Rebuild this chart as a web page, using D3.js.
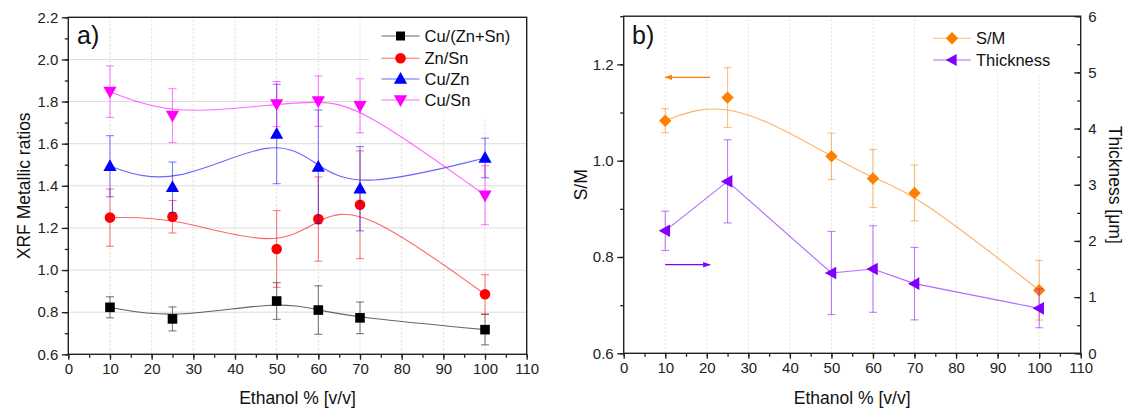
<!DOCTYPE html>
<html>
<head>
<meta charset="utf-8">
<script src="https://cdn.jsdelivr.net/npm/d3@7"></script>
<style>
  body { margin: 0; background: #fff; }
  svg { font-family: "Liberation Sans", Arial, sans-serif; }
</style>
</head>
<body>
<div id="chart"></div>
<script>
// ethanol content (x) shared by both panels
const ethanol = [10, 25, 50, 60, 70, 100];

// panel a) XRF metallic ratios
const cuZnSn = [0.823, 0.768, 0.853, 0.810, 0.773, 0.717];
const cuZnSnErr = [0.050, 0.057, 0.087, 0.115, 0.075, 0.072];
const znSn = [1.249, 1.253, 1.100, 1.242, 1.310, 0.885];
const znSnErr = [0.136, 0.077, 0.182, 0.200, 0.256, 0.093];
const cuZn = [1.493, 1.393, 1.646, 1.490, 1.386, 1.532];
const cuZnErr = [0.145, 0.120, 0.236, 0.270, 0.200, 0.094];
const cuSn = [1.847, 1.733, 1.788, 1.802, 1.780, 1.355];
const cuSnErr = [0.122, 0.128, 0.107, 0.120, 0.128, 0.140];

// panel b) S/M ratio and thickness
const sm = [1.083, 1.131, 1.009, 0.963, 0.933, 0.731];
const smErr = [0.025, 0.062, 0.048, 0.060, 0.058, 0.062];
const thickness = [2.18, 3.06, 1.43, 1.50, 1.24, 0.80];
const thicknessErr = [0.35, 0.74, 0.74, 0.77, 0.645, 0.345];

const xTicks = d3.range(0, 111, 10);
const yTicksA = [0.6, 0.8, 1.0, 1.2, 1.4, 1.6, 1.8, 2.0, 2.2];
const yTicksB = [0.6, 0.8, 1.0, 1.2];
const yTicksR = [0, 1, 2, 3, 4, 5, 6];

const width = 1131, height = 409;
const svg = d3.select("#chart").append("svg")
  .attr("width", width).attr("height", height);

// marker shapes (Origin style)
function marker(type, r) {
  switch (type) {
    case "square": return `M${-r},${-r}H${r}V${r}H${-r}Z`;
    case "circle": return d3.symbol(d3.symbolCircle, Math.PI * r * r)();
    case "up": return `M0,${-r * 1.15}L${r * 1.1},${r * 0.8}L${-r * 1.1},${r * 0.8}Z`;
    case "down": return `M0,${r * 1.15}L${r * 1.1},${-r * 0.8}L${-r * 1.1},${-r * 0.8}Z`;
    case "left": return `M${-r * 1.1},0L${r * 0.8},${-r * 1.05}L${r * 0.8},${r * 1.05}Z`;
    case "diamond": return `M0,${-r}L${r},0L0,${r}L${-r},0Z`;
  }
}

function drawSeries(g, x, y, vals, errs, color, shape, r, curve) {
  const pts = ethanol.map((e, i) => ({ x: e, y: vals[i], e: errs[i] }));
  // error bars
  const eb = g.append("g").attr("stroke", color).attr("stroke-opacity", 0.5).attr("stroke-width", 1.1);
  pts.forEach(p => {
    const cx = x(p.x), y1 = y(p.y + p.e), y2 = y(p.y - p.e);
    eb.append("line").attr("x1", cx).attr("x2", cx).attr("y1", y1).attr("y2", y2);
    eb.append("line").attr("x1", cx - 4).attr("x2", cx + 4).attr("y1", y1).attr("y2", y1);
    eb.append("line").attr("x1", cx - 4).attr("x2", cx + 4).attr("y1", y2).attr("y2", y2);
  });
  // connecting line
  g.append("path")
    .datum(pts)
    .attr("fill", "none")
    .attr("stroke", color)
    .attr("stroke-opacity", 0.6)
    .attr("stroke-width", 1.1)
    .attr("d", d3.line().x(d => x(d.x)).y(d => y(d.y)).curve(curve));
  // markers
  g.append("g").selectAll("path")
    .data(pts)
    .join("path")
    .attr("transform", d => `translate(${x(d.x)},${y(d.y)})`)
    .attr("d", marker(shape, r))
    .attr("fill", color);
}

function legendItem(g, lx, ly, label, color, shape, r) {
  g.append("line").attr("x1", lx).attr("x2", lx + 38).attr("y1", ly).attr("y2", ly)
    .attr("stroke", color).attr("stroke-opacity", 0.6).attr("stroke-width", 1.1);
  g.append("path").attr("transform", `translate(${lx + 19},${ly})`)
    .attr("d", marker(shape, r)).attr("fill", color);
  g.append("text").attr("x", lx + 43).attr("y", ly).attr("dy", "0.36em")
    .attr("font-size", 16.5).attr("fill", "#111").text(label);
}

function frame(g, x, y0, y1) {
  const [xa, xb] = x.range();
  g.append("rect").attr("x", xa).attr("y", y1).attr("width", xb - xa).attr("height", y0 - y1)
    .attr("fill", "none").attr("stroke", "#222").attr("stroke-width", 1.4);
}

function styleAxis(ax) {
  ax.selectAll(".domain").remove();
  ax.selectAll("line").attr("stroke", "#222").attr("stroke-width", 1.3);
  ax.selectAll("text").attr("font-size", 15).attr("fill", "#222")
    .attr("font-family", "Liberation Sans, Arial, sans-serif");
}

function xAxis(g, x, yPos) {
  const ax = g.append("g").attr("transform", `translate(0,${yPos})`);
  ax.call(d3.axisBottom(x).tickValues(d3.range(0, 111, 5)).tickSize(3.5).tickFormat(""));
  ax.append("g").call(d3.axisBottom(x).tickValues(xTicks).tickSize(5.5).tickPadding(3.5).tickFormat(d3.format("d")));
  styleAxis(ax);
}

function yAxis(g, y, xPos, major, minor, fmt) {
  const ax = g.append("g").attr("transform", `translate(${xPos},0)`);
  ax.call(d3.axisLeft(y).tickValues(minor).tickSize(3.5).tickFormat(""));
  ax.append("g").call(d3.axisLeft(y).tickValues(major).tickSize(6.5).tickPadding(3.5).tickFormat(fmt));
  styleAxis(ax);
}

// right axis: ticks point inward, labels outside
function yAxisRight(g, y, xPos, major, minor, fmt) {
  const ax = g.append("g").attr("transform", `translate(${xPos},0)`);
  ax.call(d3.axisRight(y).tickValues(minor).tickSize(-3.5).tickFormat(""));
  ax.append("g").call(d3.axisRight(y).tickValues(major).tickSizeInner(-6.5).tickSizeOuter(0).tickPadding(7.5).tickFormat(fmt));
  styleAxis(ax);
}

// ---------- panel a ----------
const xa = d3.scaleLinear().domain([0, 110]).range([68.3, 526.7]);
const ya = d3.scaleLinear().domain([0.6, 2.2]).range([354.3, 17.3]);
const ga = svg.append("g");

// grid
ga.append("g").selectAll("line").data(yTicksA.slice(1, -1)).join("line")
  .attr("x1", xa(0)).attr("x2", xa(110)).attr("y1", d => ya(d)).attr("y2", d => ya(d))
  .attr("stroke", "#dcdcdc").attr("stroke-width", 1);
ga.append("g").selectAll("line").data(xTicks.slice(1, -1)).join("line")
  .attr("x1", d => xa(d)).attr("x2", d => xa(d)).attr("y1", ya(0.6)).attr("y2", ya(2.2))
  .attr("stroke", "#dcdcdc").attr("stroke-width", 1).attr("stroke-dasharray", "2,2");
// legend background covers grid
ga.append("rect").attr("x", 369).attr("y", ya(2.2) + 1).attr("width", xa(110) - 370).attr("height", 99).attr("fill", "#fff");

drawSeries(ga, xa, ya, cuZnSn, cuZnSnErr, "#000000", "square", 4.8, d3.curveBasis);
drawSeries(ga, xa, ya, znSn, znSnErr, "#ff0000", "circle", 5.3, d3.curveBasis);
drawSeries(ga, xa, ya, cuZn, cuZnErr, "#0000ff", "up", 6, d3.curveBasis);
drawSeries(ga, xa, ya, cuSn, cuSnErr, "#ff00ff", "down", 6, d3.curveBasis);

frame(ga, xa, ya(0.6), ya(2.2));
xAxis(ga, xa, ya(0.6));
yAxis(ga, ya, xa(0), yTicksA, d3.range(0.6, 2.21, 0.1), d3.format(".1f"));

legendItem(ga, 381.5, 36, "Cu/(Zn+Sn)", "#000000", "square", 4.5);
legendItem(ga, 381.5, 58.3, "Zn/Sn", "#ff0000", "circle", 5.3);
legendItem(ga, 381.5, 79, "Cu/Zn", "#0000ff", "up", 6);
legendItem(ga, 381.5, 100, "Cu/Sn", "#ff00ff", "down", 6);

ga.append("text").attr("x", 77).attr("y", 44).attr("font-size", 25).attr("fill", "#111").text("a)");
ga.append("text").attr("transform", `translate(30,${(ya(0.6) + ya(2.2)) / 2}) rotate(-90)`)
  .attr("text-anchor", "middle").attr("font-size", 17.5).attr("fill", "#111").text("XRF Metallic ratios");
ga.append("text").attr("x", (xa(0) + xa(110)) / 2).attr("y", 404)
  .attr("text-anchor", "middle").attr("font-size", 17.5).attr("fill", "#111").text("Ethanol % [v/v]");

// ---------- panel b ----------
const xb = d3.scaleLinear().domain([0, 110]).range([623.7, 1080.7]);
const yb = d3.scaleLinear().domain([0.6, 1.3]).range([353.3, 16.2]);
const yr = d3.scaleLinear().domain([0, 6]).range([353.3, 16.2]);
const gb = svg.append("g");

gb.append("g").selectAll("line").data(xTicks.slice(1, -1)).join("line")
  .attr("x1", d => xb(d)).attr("x2", d => xb(d)).attr("y1", yb(0.6)).attr("y2", yb(1.3))
  .attr("stroke", "#e0e0e0").attr("stroke-width", 1).attr("stroke-dasharray", "2,2");
gb.append("rect").attr("x", 926).attr("y", yb(1.3) + 1).attr("width", xb(110) - 927).attr("height", 58).attr("fill", "#fff");

drawSeries(gb, xb, yb, sm, smErr, "#ff8000", "diamond", 6.2, d3.curveBasis);
drawSeries(gb, xb, yr, thickness, thicknessErr, "#8000ff", "left", 6, d3.curveLinear);

// arrows indicating which axis each series uses
const defs = svg.append("defs");
[["arrO", "#ff8000"], ["arrP", "#8000ff"]].forEach(([id, c]) => {
  defs.append("marker").attr("id", id).attr("viewBox", "0 0 10 10").attr("refX", 9).attr("refY", 5)
    .attr("markerWidth", 6).attr("markerHeight", 6).attr("orient", "auto")
    .append("path").attr("d", "M0,1.5L10,5L0,8.5Z").attr("fill", c);
});
gb.append("line").attr("x1", xb(20.8)).attr("x2", xb(10)).attr("y1", yb(1.173)).attr("y2", yb(1.173))
  .attr("stroke", "#ff8000").attr("stroke-width", 1.3).attr("marker-end", "url(#arrO)");
gb.append("line").attr("x1", xb(10)).attr("x2", xb(20.8)).attr("y1", yb(0.784)).attr("y2", yb(0.784))
  .attr("stroke", "#8000ff").attr("stroke-width", 1.3).attr("marker-end", "url(#arrP)");

frame(gb, xb, yb(0.6), yb(1.3));
xAxis(gb, xb, yb(0.6));
yAxis(gb, yb, xb(0), yTicksB, d3.range(0.6, 1.31, 0.1), d3.format(".1f"));
yAxisRight(gb, yr, xb(110), yTicksR, d3.range(0, 6.01, 0.5), d3.format("d"));

legendItem(gb, 933, 38.3, "S/M", "#ff8000", "diamond", 6.2);
legendItem(gb, 933, 60, "Thickness", "#8000ff", "left", 5.8);

gb.append("text").attr("x", 632).attr("y", 44).attr("font-size", 25).attr("fill", "#111").text("b)");
gb.append("text").attr("transform", `translate(587,${(yb(0.6) + yb(1.3)) / 2}) rotate(-90)`)
  .attr("text-anchor", "middle").attr("font-size", 17.5).attr("fill", "#111").text("S/M");
gb.append("text").attr("transform", `translate(1109,${(yb(0.6) + yb(1.3)) / 2}) rotate(90)`)
  .attr("text-anchor", "middle").attr("font-size", 17.5).attr("fill", "#111").text("Thickness [μm]");
gb.append("text").attr("x", (xb(0) + xb(110)) / 2).attr("y", 404)
  .attr("text-anchor", "middle").attr("font-size", 17.5).attr("fill", "#111").text("Ethanol % [v/v]");
</script>
</body>
</html>
